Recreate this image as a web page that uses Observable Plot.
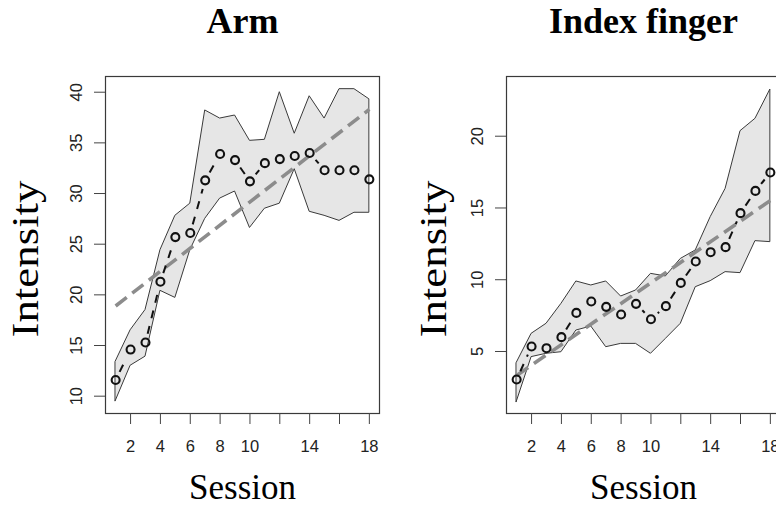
<!DOCTYPE html>
<html>
<head>
<meta charset="utf-8">
<script src="https://cdn.jsdelivr.net/npm/d3@7"></script>
<script src="https://cdn.jsdelivr.net/npm/@observablehq/plot@0.6"></script>
<style>
  html, body { margin: 0; padding: 0; background: #fff; }
  #wrap { position: relative; width: 776px; height: 506px; overflow: hidden; background: #fff; }
  #left, #right { position: absolute; top: 0; }
  #left { left: 0; width: 388px; }
  #right { left: 388px; width: 400px; }
  #wrap svg { max-width: none !important; }
</style>
</head>
<body>
<div id="wrap"><div id="left"></div><div id="right"></div></div>
<script>
// ---------- data ----------
const sessions = [1, 2, 3, 4, 5, 6, 7, 8, 9, 10, 11, 12, 13, 14, 15, 16, 17, 18];

const armMean  = [11.6, 14.6, 15.3, 21.3, 25.7, 26.1, 31.3, 33.9, 33.3, 31.2, 33.0, 33.4, 33.7, 34.0, 32.3, 32.3, 32.3, 31.4];
const armUpper = [13.4, 16.5, 18.5, 24.4, 27.8, 29.0, 38.2, 37.4, 37.7, 35.2, 35.3, 40.0, 35.9, 39.6, 37.4, 40.3, 40.3, 39.3];
const armLower = [9.5, 13.0, 13.9, 20.4, 19.7, 24.4, 27.5, 29.5, 30.2, 26.6, 28.5, 29.0, 32.4, 28.2, 27.8, 27.3, 28.1, 28.1];
const armTrend = [18.9, 38.3];   // fitted line at session 1 and 18

const fingerMean  = [3.05, 5.35, 5.23, 6.0, 7.69, 8.48, 8.11, 7.58, 8.32, 7.25, 8.16, 9.78, 11.27, 11.92, 12.27, 14.64, 16.19, 17.47];
const fingerUpper = [4.2, 6.23, 6.93, 8.32, 9.88, 9.6, 9.88, 8.83, 9.25, 10.41, 10.23, 11.45, 12.04, 14.36, 16.33, 20.35, 21.21, 23.25];
const fingerLower = [1.47, 4.61, 4.84, 4.95, 6.46, 6.74, 5.3, 5.53, 5.53, 4.84, 5.88, 6.93, 9.48, 9.9, 10.53, 10.46, 12.69, 12.62];
const fingerTrend = [3.33, 15.52];

const xTicks = [2, 4, 6, 8, 10, 12, 14, 16, 18];
const xTickLabels = ["2", "4", "6", "8", "10", "", "14", "", "18"];
const armYTicks = [10, 15, 20, 25, 30, 35, 40];
const fingerYTicks = [5, 10, 15, 20];

const panels = [
  {el: "#left",  title: "Arm",          mean: armMean,    upper: armUpper,    lower: armLower,    trend: armTrend,
   yTicks: armYTicks, width: 388, marginLeft: 105, marginRight: 9, yDomain: [8.29, 41.55], labelDx: -68},
  {el: "#right", title: "Index finger", mean: fingerMean, upper: fingerUpper, lower: fingerLower, trend: fingerTrend,
   yTicks: fingerYTicks, width: 400, marginLeft: 118, marginRight: 8, yDomain: [0.68, 24.16], labelDx: -61}
];

// ---------- drawing ----------
const H = 506, MT = 76, MB = 93;
const xDomain = [0.32, 18.68];
const labelMap = new Map(xTicks.map((t, i) => [t, xTickLabels[i]]));
const serif = "'Liberation Serif', 'Times New Roman', serif";
const sans = "'Liberation Sans', Arial, Helvetica, sans-serif";

function gapSegments(xs, ys, sx, sy, gap) {
  const segs = [];
  for (let i = 0; i < xs.length - 1; i++) {
    const ax = sx.apply(xs[i]), ay = sy.apply(ys[i]);
    const bx = sx.apply(xs[i + 1]), by = sy.apply(ys[i + 1]);
    const dx = bx - ax, dy = by - ay, len = Math.hypot(dx, dy);
    if (len <= 2 * gap + 1) continue;
    const t = gap / len;
    segs.push({
      x1: sx.invert(ax + dx * t), y1: sy.invert(ay + dy * t),
      x2: sx.invert(bx - dx * t), y2: sy.invert(by - dy * t)
    });
  }
  return segs;
}

for (const p of panels) {
  const rows = sessions.map((s, i) => ({s, mean: p.mean[i], hi: p.upper[i], lo: p.lower[i]}));
  const trendRows = [{x1: sessions[0], y1: p.trend[0], x2: sessions[sessions.length - 1], y2: p.trend[1]}];
  const sx = Plot.scale({x: {domain: xDomain, range: [p.marginLeft, p.width - p.marginRight]}});
  const sy = Plot.scale({y: {domain: p.yDomain, range: [H - MB, MT]}});
  const segs = gapSegments(sessions, p.mean, sx, sy, 9);

  const chart = Plot.plot({
    width: p.width,
    height: H,
    marginLeft: p.marginLeft,
    marginRight: p.marginRight,
    marginTop: MT,
    marginBottom: MB,
    style: {fontFamily: sans, fontSize: "16px", color: "#222", background: "transparent", maxWidth: "none"},
    x: {domain: xDomain},
    y: {domain: p.yDomain},
    marks: [
      Plot.areaY(rows, {x: "s", y1: "lo", y2: "hi", fill: "#e6e6e6", stroke: "#3a3a3a", strokeWidth: 1}),
      Plot.link(trendRows, {x1: "x1", y1: "y1", x2: "x2", y2: "y2", stroke: "#8c8c8c", strokeWidth: 3.6, strokeDasharray: "14,7"}),
      Plot.link(segs, {x1: "x1", y1: "y1", x2: "x2", y2: "y2", stroke: "#111", strokeWidth: 2, strokeDasharray: "8,8"}),
      Plot.dot(rows, {x: "s", y: "mean", r: 4, stroke: "#111", strokeWidth: 2.1, fill: "none"}),
      Plot.frame({stroke: "#3a3a3a", strokeWidth: 1.2}),
      Plot.axisX({ticks: xTicks, tickSize: 11, tickPadding: 16, tickFormat: d => labelMap.get(d), label: null, stroke: "#444", fontSize: 16.5}),
      Plot.axisY({ticks: p.yTicks, tickSize: 11, tickFormat: () => "", label: null, stroke: "#444"}),
      Plot.text(p.yTicks, {y: d => d, text: d => String(d), frameAnchor: "left", dx: -24, rotate: -90,
        lineAnchor: "bottom", textAnchor: "middle", fontSize: 16.5, fill: "#222"}),
      Plot.text([p.title], {text: d => d, frameAnchor: "top", dy: -44, lineAnchor: "bottom",
        fontFamily: serif, fontWeight: "bold", fontSize: 36, fill: "#000"}),
      Plot.text(["Session"], {text: d => d, frameAnchor: "bottom", dy: 85, lineAnchor: "bottom",
        fontFamily: serif, fontSize: 35, fill: "#000"}),
      Plot.text(["Intensity"], {text: d => d, frameAnchor: "left", dx: p.labelDx, dy: 14, rotate: -90,
        lineAnchor: "bottom", textAnchor: "middle", fontFamily: serif, fontSize: 37, fill: "#000"})
    ]
  });
  d3.select(chart).selectAll("text")
    .filter(function () { return this.textContent === "Intensity"; })
    .attr("textLength", 157).attr("lengthAdjust", "spacingAndGlyphs");
  document.querySelector(p.el).appendChild(chart);
}
</script>
</body>
</html>
